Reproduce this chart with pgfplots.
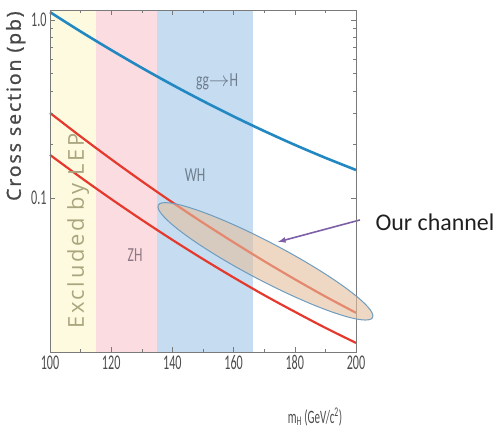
\documentclass[border=0pt]{standalone}
\usepackage{fontspec}
\usepackage{pgfplots}
\pgfplotsset{compat=1.18}
\setmainfont{Carlito}
\newfontfamily\condfont{Carlito}[FakeStretch=0.58]
\newfontfamily\condfontb{Carlito}[FakeStretch=0.68]
\newfontfamily\ylabfont{Open Sans}[LetterSpace=10,FakeBold=1.2]
\newfontfamily\lepfont{Open Sans}[LetterSpace=12]
\definecolor{bandY}{HTML}{FEFADF}
\definecolor{bandP}{HTML}{FBDCE0}
\definecolor{bandB}{HTML}{C5DCF1}
\definecolor{cBlue}{HTML}{2188C2}
\definecolor{cRed}{HTML}{E6392D}
\definecolor{cEll}{HTML}{E3BE9C}
\definecolor{cEllB}{HTML}{6E9CBE}
\definecolor{cArrow}{HTML}{7C5FA6}
\definecolor{cLab}{HTML}{6F7E8E}
\definecolor{cZH}{HTML}{8E7886}
\definecolor{cLEP}{HTML}{A9A67F}
\definecolor{cAx}{HTML}{7A7A7A}
\begin{document}
\begin{tikzpicture}
\begin{semilogyaxis}[
  name=ax,
  width=306bp, height=342bp, scale only axis,
  xmin=100, xmax=200, ymin=0.0136, ymax=1.14,
  xtick={100,120,140,160,180,200},
  xticklabels={100,120,140,160,180,200},
  minor xtick={110,130,150,170,190},
  ytick={0.1,1}, yticklabels={0.1,1.0},
  tick align=inside,
  axis line style={cAx, line width=0.8pt},
  every tick/.style={cAx, line width=0.5pt},
  major tick length=5pt, minor tick length=3pt,
  ticklabel style={font=\condfont\fontsize{21}{21}\selectfont, text=black!70},
  clip=false,
  axis on top,
  xlabel={\condfont\fontsize{19}{19}\selectfont m\textsubscript{H} (GeV/c\textsuperscript{2})},
  xlabel style={at={(axis description cs:0.866,-0.19)}, anchor=center, text=black!70},
  ylabel={\ylabfont\fontsize{19.5}{19.5}\selectfont Cross section (pb)},
  ylabel style={at={(axis description cs:-0.112,0.719)}, anchor=center, text=black!72},
]
% bands
\fill[bandY] (axis cs:100,0.0136) rectangle (axis cs:115,1.14);
\fill[bandP] (axis cs:115,0.0136) rectangle (axis cs:135,1.14);
\fill[bandB] (axis cs:135,0.0136) rectangle (axis cs:166.5,1.14);
% curves
\addplot[cBlue, line width=2.6pt, smooth] coordinates {
(100,1.109) (110,0.863) (120,0.679) (130,0.539) (140,0.4325) (150,0.3508)
(160,0.2873) (170,0.2378) (180,0.1989) (190,0.1681) (200,0.1436)};
\addplot[cRed, line width=2.2pt, smooth] coordinates {
(100,0.3006) (110,0.2216) (120,0.1651) (130,0.1242) (140,0.0944) (150,0.0725)
(160,0.0563) (170,0.0441) (180,0.0349) (190,0.0279) (200,0.0226)};
\addplot[cRed, line width=2.2pt, smooth] coordinates {
(100,0.1746) (110,0.1305) (120,0.0986) (130,0.0753) (140,0.0581) (150,0.0453)
(160,0.0357) (170,0.0284) (180,0.0229) (190,0.0186) (200,0.0153)};
\coordinate (ec) at (axis cs:170.4,0.044);
% labels
\node[text=cLab, font=\condfontb\fontsize{20}{20}\selectfont] at (axis cs:154.6,0.448) {gg$\rightarrow$H};
\node[text=cLab, font=\condfontb\fontsize{20}{20}\selectfont] at (axis cs:147.4,0.1346) {WH};
\node[text=cZH, font=\condfontb\fontsize{20}{20}\selectfont] at (axis cs:127.8,0.0478) {ZH};
\node[text=cLEP, rotate=90, font=\lepfont\fontsize{22}{22}\selectfont] at (axis cs:109.2,0.0653) {Excluded by LEP};
% annotation
\draw[cArrow, line width=1.6pt, -{latex}] (axis cs:201.3,0.0752) -- (axis cs:174.5,0.0566);
\node[font=\fontsize{24}{24}\selectfont, text=black!88] at (axis cs:225.8,0.0733) {Our channel};
\end{semilogyaxis}
\draw[cEllB, line width=1pt, fill=cEll, fill opacity=0.6, shift={(ec)}, rotate=-27.7] (0,0) ellipse (121bp and 19bp);
\pgfresetboundingbox
\path (ax.south west) ++(-50bp,-80bp) rectangle ++(499bp,432bp);
\end{tikzpicture}
\end{document}
